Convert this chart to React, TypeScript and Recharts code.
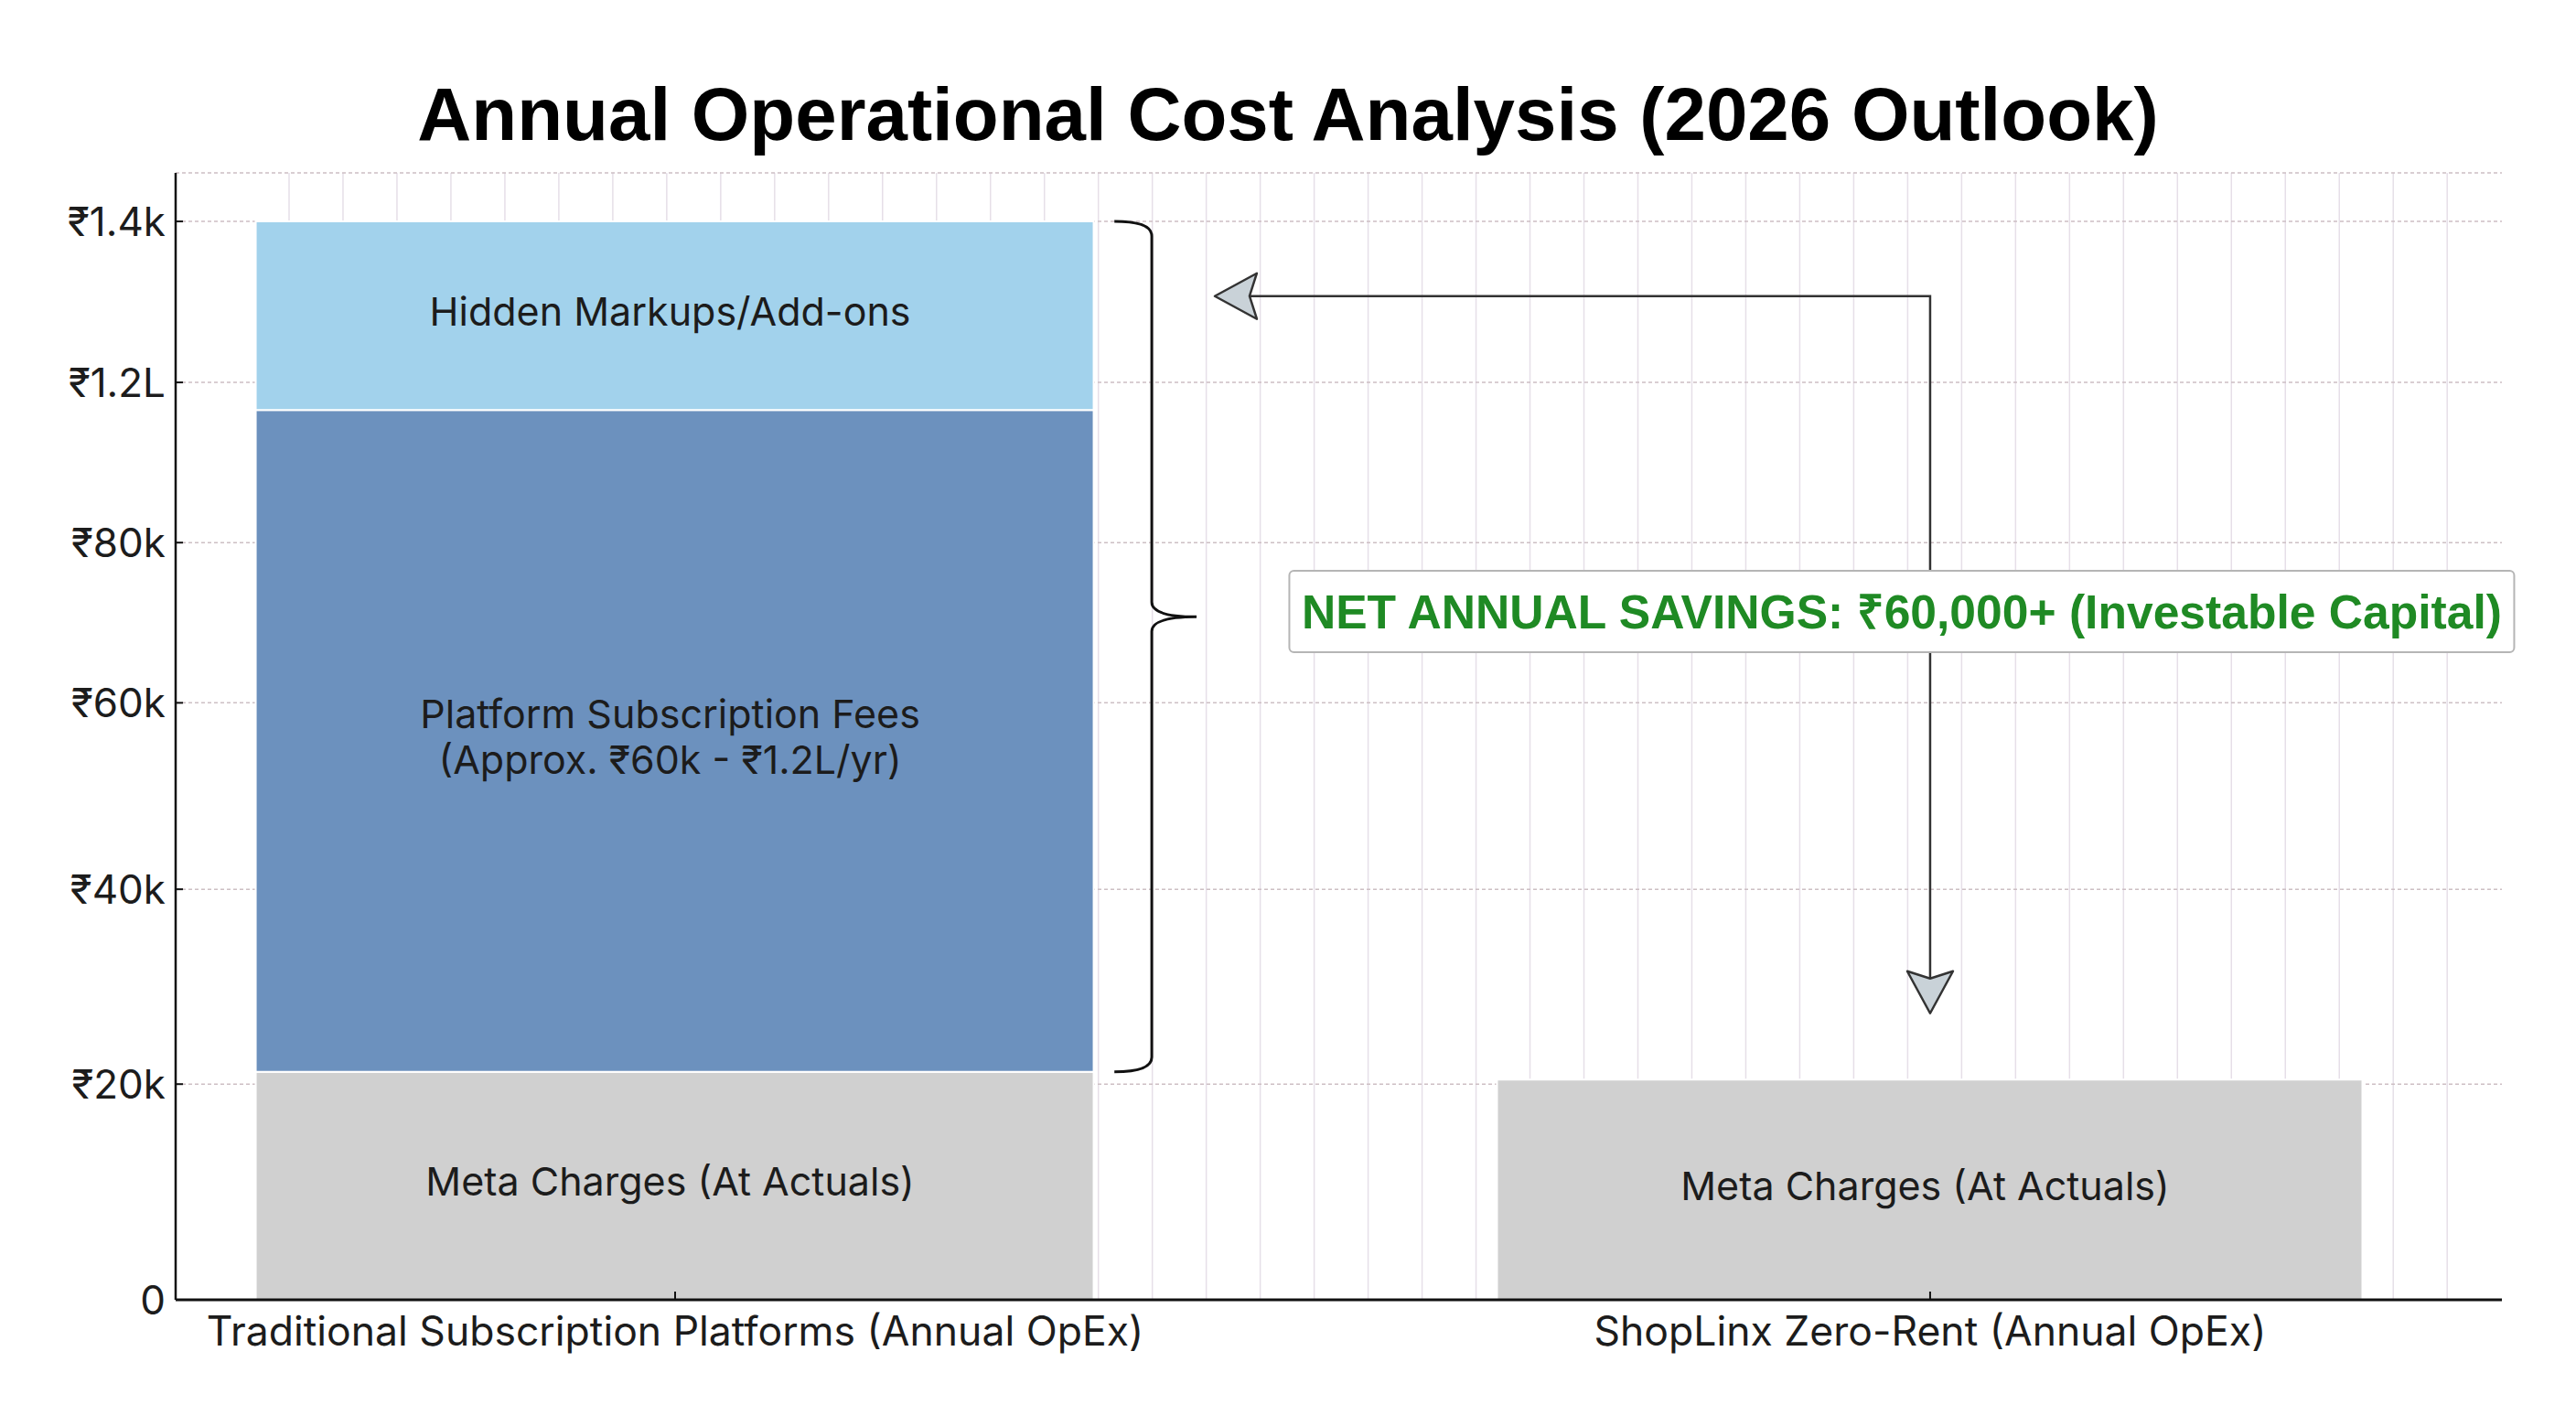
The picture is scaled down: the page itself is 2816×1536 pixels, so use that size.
import { BarChart, Bar, XAxis, YAxis, CartesianGrid, LabelList, ReferenceArea, ReferenceDot, Rectangle } from "recharts"

// categories sit at x = 0 and x = 1 on a numeric axis (the reference places them off-centre)
const CATEGORIES = ["Traditional Subscription Platforms (Annual OpEx)", "ShopLinx Zero-Rent (Annual OpEx)"]
const CATEGORY_X = [0, 1]

// segment heights, read on the chart's own (unevenly labelled) vertical scale
const META = [29600, 28600]
const PLATFORM = [85900, null]
const HIDDEN = [24500, null]

// the reference's y ticks are not evenly spaced, so each label gets its own scale position
const Y_TICKS = [0, 28000, 53300, 77500, 98300, 119100, 140000]
const Y_TICK_LABELS = ["0", "₹20k", "₹40k", "₹60k", "₹80k", "₹1.2L", "₹1.4k"]

const SEGMENT_LABELS: Record<string, string[]> = {
  meta: ["Meta Charges (At Actuals)"],
  platform: ["Platform Subscription Fees", "(Approx. ₹60k - ₹1.2L/yr)"],
  hidden: ["Hidden Markups/Add-ons"],
}

const TITLE = "Annual Operational Cost Analysis (2026 Outlook)"
const SAVINGS_TEXT = "NET ANNUAL SAVINGS: ₹60,000+ (Investable Capital)"

const COLORS = {
  meta: "#d0d0d0",
  platform: "#6c91be",
  hidden: "#a2d2ec",
}

const W = 2816
const H = 1536
const MARGIN = { top: 189, right: 81, bottom: 0, left: 0 }
const Y_AXIS_W = 192
const X_AXIS_H = 115
// the two bars are drawn slightly different widths in the reference
const BAR_WIDTHS = [916, 946]

const FONT = "Inter, 'Noto Sans', sans-serif"
const TITLE_FONT = "'Liberation Sans', Arial, sans-serif"

const data = CATEGORIES.map((name, i) => ({
  x: CATEGORY_X[i],
  name,
  meta: META[i],
  platform: PLATFORM[i],
  hidden: HIDDEN[i],
}))

const barShape = (props: any) => {
  const w = BAR_WIDTHS[props.index] ?? props.width
  return <Rectangle {...props} x={props.x + (props.width - w) / 2} width={w} />
}

const renderSegmentLabel = (key: string) => (props: any) => {
  const { x, y, width, height, value } = props
  if (!value || !height) return null
  const lines = SEGMENT_LABELS[key]
  const cx = x + width / 2 - 5
  const lh = 50
  const top = y + height / 2 - 5 - ((lines.length - 1) * lh) / 2
  return (
    <text x={cx} y={top} textAnchor="middle" dominantBaseline="central" fontFamily={FONT} fontSize={43} fill="#1c1c1c">
      {lines.map((line, i) => (
        <tspan key={i} x={cx} dy={i === 0 ? 0 : lh}>
          {line}
        </tspan>
      ))}
    </text>
  )
}

// curly brace spanning the subscription + markup part of the first bar
function Bracket(props: any) {
  const { x, y, width, height } = props
  const spine = x + width * 0.455
  const tipX = x + width
  const midY = y + height * 0.465
  const r = 16
  const bottom = y + height
  const d = `M ${x} ${y} Q ${spine} ${y} ${spine} ${y + r} L ${spine} ${midY - r} Q ${spine} ${midY} ${tipX} ${midY} Q ${spine} ${midY} ${spine} ${midY + r} L ${spine} ${bottom - r} Q ${spine} ${bottom} ${x} ${bottom}`
  return <path d={d} fill="none" stroke="#111" strokeWidth={3} />
}

// elbow arrow: points left at the top, points down at the bottom right
function SavingsArrow(props: any) {
  const { x, y, width, height } = props
  const head = 46
  const half = 25
  const notch = 8
  const right = x + width
  const bottom = y + height
  return (
    <g>
      <path d={`M ${x + head - notch} ${y} H ${right} V ${bottom - head + notch}`} fill="none" stroke="#333" strokeWidth={2.5} />
      <polygon
        points={`${x},${y} ${x + head},${y - half} ${x + head - notch},${y} ${x + head},${y + half}`}
        fill="#c9d2d8"
        stroke="#333"
        strokeWidth={2.5}
        strokeLinejoin="round"
      />
      <polygon
        points={`${right},${bottom} ${right - half},${bottom - head} ${right},${bottom - head + notch} ${right + half},${bottom - head}`}
        fill="#c9d2d8"
        stroke="#333"
        strokeWidth={2.5}
        strokeLinejoin="round"
      />
    </g>
  )
}

function SavingsBox(props: any) {
  const { cx, cy } = props
  const bw = 1339
  const bh = 89
  return (
    <g>
      <rect x={cx - bw / 2} y={cy - bh / 2} width={bw} height={bh} rx={5} fill="#fff" stroke="#b5b5b5" strokeWidth={2} />
      <text
        x={cx}
        y={cy + 1}
        textAnchor="middle"
        dominantBaseline="central"
        fontFamily={TITLE_FONT}
        fontWeight="bold"
        fontSize={51.6}
        fill="#1f8a24"
      >
        {SAVINGS_TEXT}
      </text>
    </g>
  )
}

const verticalGrid = (props: any) => {
  const left = props?.offset?.left ?? MARGIN.left + Y_AXIS_W
  const lines: number[] = []
  for (let i = 0; i <= 40; i++) lines.push(left + 124 + i * 58.98)
  return lines
}

export default function App() {
  return (
    <div style={{ position: "relative", width: W, height: H, background: "#fff" }}>
      <style>{`body { margin: 0; }`}</style>
      <div
        style={{
          position: "absolute",
          top: 84,
          left: 0,
          width: W,
          textAlign: "center",
          fontFamily: TITLE_FONT,
          fontWeight: "bold",
          fontSize: 81.7,
          lineHeight: 1,
          color: "#000",
        }}
      >
        {TITLE}
      </div>
      <BarChart width={W} height={H} data={data} margin={MARGIN}>
        <CartesianGrid horizontal={false} verticalCoordinatesGenerator={verticalGrid} stroke="#e6dfe8" strokeWidth={1.5} />
        <CartesianGrid vertical={false} stroke="#cdbfc4" strokeDasharray="4 3" strokeWidth={1.5} />
        <XAxis
          type="number"
          dataKey="x"
          domain={[-0.398, 1.4556]}
          allowDataOverflow
          ticks={CATEGORY_X}
          interval={0}
          tickFormatter={(v: number) => CATEGORIES[CATEGORY_X.indexOf(v)] ?? ""}
          height={X_AXIS_H}
          axisLine={{ stroke: "#111", strokeWidth: 3 }}
          tickLine={{ stroke: "#111", strokeWidth: 2 }}
          tickSize={-9}
          tickMargin={27}
          tick={{ fontSize: 44.5, fill: "#1c1c1c", fontFamily: FONT }}
        />
        <YAxis
          type="number"
          domain={[0, 146300]}
          allowDataOverflow
          ticks={Y_TICKS}
          interval={0}
          tickFormatter={(v: number) => Y_TICK_LABELS[Y_TICKS.indexOf(v)] ?? ""}
          width={Y_AXIS_W}
          axisLine={{ stroke: "#111", strokeWidth: 2.5 }}
          tickLine={{ stroke: "#111", strokeWidth: 2 }}
          tickSize={-8}
          tickMargin={19}
          tick={{ fontSize: 44, fill: "#1c1c1c", fontFamily: FONT }}
        />
        <Bar dataKey="meta" stackId="a" fill={COLORS.meta} stroke="#fff" strokeWidth={2} barSize={931} shape={barShape} isAnimationActive={false}>
          <LabelList dataKey="meta" content={renderSegmentLabel("meta")} />
        </Bar>
        <Bar dataKey="platform" stackId="a" fill={COLORS.platform} stroke="#fff" strokeWidth={2} barSize={931} shape={barShape} isAnimationActive={false}>
          <LabelList dataKey="platform" content={renderSegmentLabel("platform")} />
        </Bar>
        <Bar dataKey="hidden" stackId="a" fill={COLORS.hidden} stroke="#fff" strokeWidth={2} barSize={931} shape={barShape} isAnimationActive={false}>
          <LabelList dataKey="hidden" content={renderSegmentLabel("hidden")} />
        </Bar>
        <ReferenceArea
          x1={0.35}
          x2={0.4155}
          y1={META[0]}
          y2={META[0] + (PLATFORM[0] ?? 0) + (HIDDEN[0] ?? 0)}
          ifOverflow="visible"
          shape={Bracket}
        />
        <ReferenceArea x1={0.43} x2={CATEGORY_X[1]} y1={37200} y2={130300} ifOverflow="visible" shape={SavingsArrow} />
        <ReferenceDot x={0.9774} y={89360} r={1} ifOverflow="visible" shape={SavingsBox} />
      </BarChart>
    </div>
  )
}
